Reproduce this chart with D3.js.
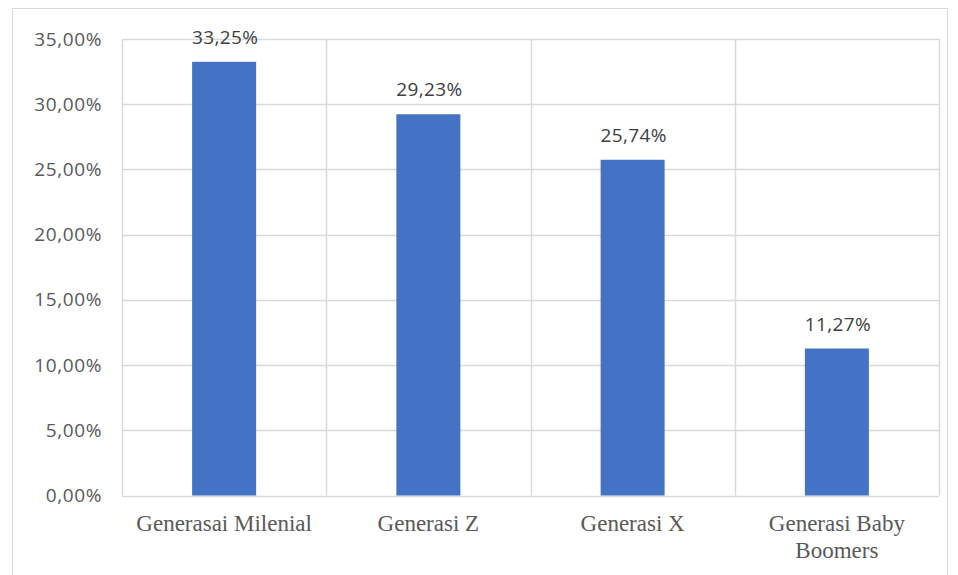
<!DOCTYPE html>
<html><head><meta charset="utf-8">
<script src="https://cdn.jsdelivr.net/npm/d3@7"></script>
<style>body{margin:0;background:#fff}svg{display:block}</style>
</head><body>
<svg id="c" width="958" height="575"></svg>
<script>
const categories = [["Generasai Milenial"], ["Generasi Z"], ["Generasi X"], ["Generasi Baby", "Boomers"]];
const values = [33.25, 29.23, 25.74, 11.27];
const valueLabels = ["33,25%", "29,23%", "25,74%", "11,27%"];
const yTicks = [0, 5, 10, 15, 20, 25, 30, 35];

const svg = d3.select("#c");
const m = {left: 122, right: 939, top: 39, bottom: 495.5};

svg.append("rect").attr("x", 12.5).attr("y", 8.5).attr("width", 935).attr("height", 570)
  .attr("fill", "#fff").attr("stroke", "#d9d9d9");

const x = d3.scaleBand().domain(d3.range(categories.length)).range([m.left, m.right]).paddingInner(0).paddingOuter(0);
const y = d3.scaleLinear().domain([0, 35]).range([m.bottom, m.top]);

svg.append("g").selectAll("line").data(yTicks).join("line")
  .attr("x1", m.left).attr("x2", m.right)
  .attr("y1", d => Math.round(y(d)) + 0.5).attr("y2", d => Math.round(y(d)) + 0.5)
  .attr("stroke", "#d9d9d9").attr("stroke-width", 1.5);
const bounds = d3.range(categories.length + 1).map(i => i < categories.length ? x(i) : x(i - 1) + x.bandwidth());
svg.append("g").selectAll("line").data(bounds).join("line")
  .attr("x1", d => Math.round(d) + 0.5).attr("x2", d => Math.round(d) + 0.5)
  .attr("y1", m.top).attr("y2", m.bottom)
  .attr("stroke", "#d9d9d9").attr("stroke-width", 1.5);

const yAxis = d3.axisLeft(y).tickValues(yTicks).tickSize(0).tickPadding(0)
  .tickFormat(d => d.toFixed(2).replace(".", ",") + "%");
const ga = svg.append("g").attr("transform", `translate(${102},0)`).call(yAxis);
ga.select(".domain").remove();
ga.selectAll("text").attr("font-family", "'Open Sans', 'Noto Sans', sans-serif").attr("font-size", 19)
  .attr("letter-spacing", 0.6).attr("fill", "#595959");

const bw = 64;
svg.append("g").selectAll("rect").data(values).join("rect")
  .attr("x", (d, i) => x(i) + x.bandwidth() / 2 - bw / 2)
  .attr("width", bw)
  .attr("y", d => y(d))
  .attr("height", d => y(0) - y(d))
  .attr("fill", "#4472C4");

svg.append("g").selectAll("text").data(values).join("text")
  .attr("x", (d, i) => x(i) + x.bandwidth() / 2 + 1)
  .attr("y", d => y(d) - 18)
  .attr("text-anchor", "middle")
  .attr("font-family", "'Open Sans', 'Noto Sans', sans-serif").attr("font-size", 19)
  .attr("letter-spacing", 0.4).attr("fill", "#404040")
  .text((d, i) => valueLabels[i]);

const cg = svg.append("g").selectAll("text").data(categories).join("text")
  .attr("x", (d, i) => x(i) + x.bandwidth() / 2)
  .attr("y", 531)
  .attr("text-anchor", "middle")
  .attr("font-family", "'Liberation Serif', 'DejaVu Serif', serif").attr("font-size", 23).attr("fill", "#595959");
cg.selectAll("tspan").data(d => d).join("tspan")
  .attr("x", function() { return d3.select(this.parentNode).attr("x"); })
  .attr("dy", (d, j) => j === 0 ? 0 : 27)
  .text(d => d);
</script>
</body></html>
